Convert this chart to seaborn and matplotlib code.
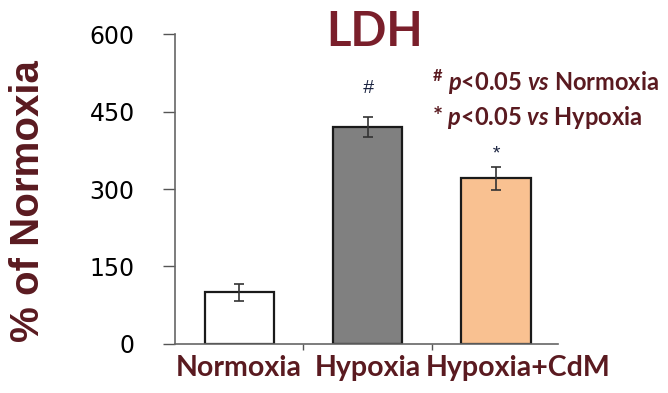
import matplotlib
matplotlib.use("Agg")
import matplotlib.pyplot as plt
import seaborn as sns
import numpy as np

categories = ["Normoxia", "Hypoxia", "Hypoxia+CdM"]
values = [100, 420, 321]
errors = [16, 20, 22]
bar_colors = ["#ffffff", "#808080", "#f9c191"]
sig_marks = ["", "#", "*"]
yticks = [0, 150, 300, 450, 600]

sns.set_theme(style="white")
plt.rcParams['font.family'] = ['Liberation Sans', 'DejaVu Sans']
plt.rcParams['mathtext.fontset'] = 'custom'
plt.rcParams['mathtext.rm'] = 'Lato:bold'
plt.rcParams['mathtext.bf'] = 'Lato:bold'
plt.rcParams['mathtext.it'] = 'Lato:italic:bold'
plt.rcParams['mathtext.bfit'] = 'Lato:italic:bold'

maroon = "#5a1a20"
fig = plt.figure(figsize=(6.68, 3.93), dpi=100)
ax = fig.add_axes([0.262, 0.125, 0.573, 0.788])

sns.barplot(x=categories, y=values, hue=categories, palette=bar_colors, legend=False,
            errorbar=None, width=0.54, saturation=1, edgecolor="#1a1a1a", linewidth=1.6, ax=ax)
ax.errorbar(x=np.arange(len(values)), y=values, yerr=errors, fmt="none",
            ecolor="#333333", elinewidth=1.2, capsize=3.5, capthick=1.2)

mark_offset = {"#": 46, "*": 16}
for i, (v, e, m) in enumerate(zip(values, errors, sig_marks)):
    if m:
        ax.text(i, v + e + mark_offset[m], m, ha="center", va="baseline", fontsize=14,
                color="#1a2340", style="italic", family=["Liberation Sans"])

ax.set_xlim(-0.5, 2.48)
ax.set_ylim(0, 600)
ax.set_yticks(yticks)
ax.set_yticklabels([str(t) for t in yticks], fontsize=17, color="black", family=["DejaVu Sans"])
# label positions (third label sits slightly right of its bar, as in the reference)
ax.set_xticks([0, 1, 2.17])
ax.set_xticks([0.5, 1.5], minor=True)
ax.set_xticklabels(categories, fontsize=20.5, fontweight="bold", color=maroon, family=["Lato"])
ax.tick_params(axis="x", which="major", length=0, pad=8)
ax.tick_params(axis="x", which="minor", length=4, width=1, color="#555555", direction="out", bottom=True)
ax.tick_params(axis="y", length=9, width=1, color="#555555", direction="out", left=True, pad=20)
for s in ["top", "right"]:
    ax.spines[s].set_visible(False)
for s in ["left", "bottom"]:
    ax.spines[s].set_color("#666666")
    ax.spines[s].set_linewidth(1.2)

ax.set_xlabel("")
ax.set_ylabel("% of Normoxia", fontsize=29, fontweight="bold", color=maroon,
              family=["Liberation Sans"])
ax.yaxis.set_label_coords(-0.335, 0.46)

fig.text(0.561, 0.975, "LDH", ha="center", va="top", fontsize=34, fontweight="bold",
         color="#7a1f2b", family=["Lato"])

fig.text(0.647, 0.79, r"$^{\#}$ $\mathit{p}$<0.05 $\mathit{vs}$ Normoxia", fontsize=17,
         fontweight="bold", color=maroon, family=["Lato"], va="center")
fig.text(0.647, 0.70, r"* $\mathit{p}$<0.05 $\mathit{vs}$ Hypoxia", fontsize=17,
         fontweight="bold", color=maroon, family=["Lato"], va="center")

fig.savefig("out.png", dpi=100)
